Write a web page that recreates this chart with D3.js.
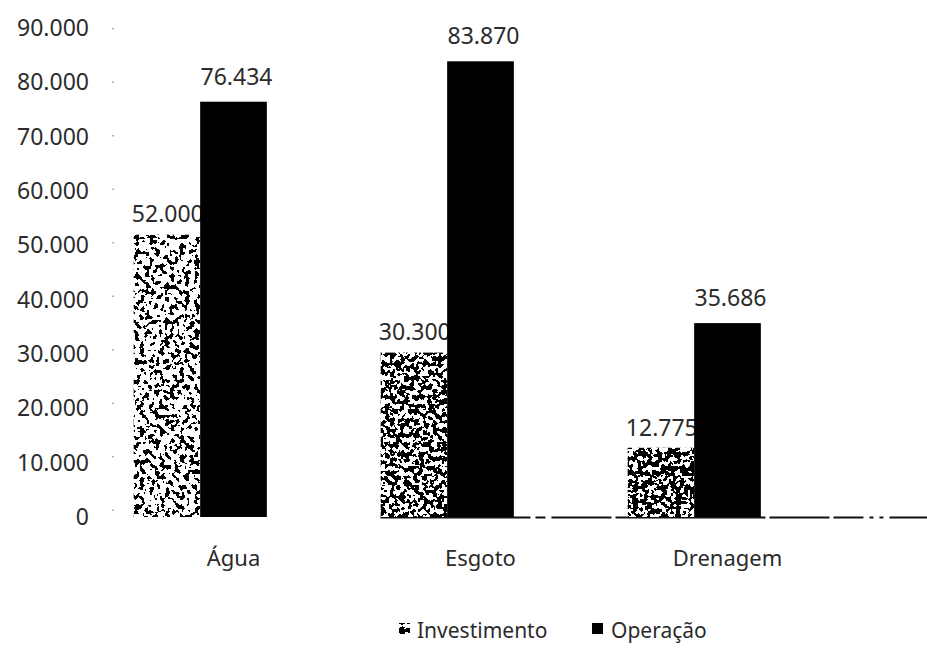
<!DOCTYPE html>
<html lang="pt-BR">
<head>
<meta charset="utf-8">
<script src="https://cdn.jsdelivr.net/npm/d3@7/dist/d3.min.js"></script>
<style>
  html, body { margin: 0; padding: 0; background: #fff; }
  svg { display: block; font-family: "Noto Sans", "Open Sans", sans-serif; }
</style>
</head>
<body>
<svg id="chart" width="927" height="661"></svg>
<script>
// Custos por componente do saneamento
const categories = ["Água", "Esgoto", "Drenagem"];
const investimento = [52000, 30300, 12775];
const operacao = [76434, 83870, 35686];
const seriesNames = ["Investimento", "Operação"];
const yTicks = [0, 10000, 20000, 30000, 40000, 50000, 60000, 70000, 80000, 90000];

const W = 927, H = 661;
const svg = d3.select("#chart");
const TEXT = "#2b2b2b";

const fmt = d3.formatLocale({ decimal: ",", thousands: ".", grouping: [3], currency: ["R$", ""] }).format(",.0f");

const x = d3.scaleBand().domain(categories).range([110, 851]).paddingInner(0.19).paddingOuter(0.095);
// three slots per group; the third stays empty
const xs = d3.scaleBand().domain([0, 1, 2]).range([0, x.bandwidth()]);
const y = d3.scaleLinear().domain([0, 90000]).range([517, 28]);

// speckled fill for the Investimento bars
const defs = svg.append("defs");
function speckle(id, density, freq, seed) {
  const f = defs.append("filter").attr("id", id)
    .attr("x", "0%").attr("y", "0%").attr("width", "100%").attr("height", "100%");
  f.append("feTurbulence").attr("type", "fractalNoise").attr("baseFrequency", freq)
    .attr("numOctaves", 2).attr("seed", seed).attr("result", "noise");
  f.append("feColorMatrix").attr("in", "noise").attr("type", "matrix")
    .attr("values", "0 0 0 0 0  0 0 0 0 0  0 0 0 0 0  4 0 0 0 -1.5").attr("result", "a");
  const steps = 20, ones = Math.round(density * steps);
  const table = d3.range(steps).map(i => (i >= steps - ones ? 1 : 0)).join(" ");
  f.append("feComponentTransfer").attr("in", "a").attr("result", "dots")
    .append("feFuncA").attr("type", "discrete").attr("tableValues", table);
  f.append("feComposite").attr("in", "dots").attr("in2", "SourceGraphic").attr("operator", "in").attr("result", "clipped");
  const m = f.append("feMerge");
  m.append("feMergeNode").attr("in", "SourceGraphic");
  m.append("feMergeNode").attr("in", "clipped");
}
speckle("speckleLight", 0.3, 0.2, 3);
speckle("speckleMid", 0.52, 0.21, 7);
speckle("speckleDense", 0.6, 0.21, 11);
const fillFilters = ["url(#speckleLight)", "url(#speckleMid)", "url(#speckleDense)"];

// faint dotted vertical axis
svg.append("line")
  .attr("x1", 113).attr("x2", 113).attr("y1", y(90000)).attr("y2", y(0))
  .attr("stroke", "#555").attr("stroke-width", 1.5).attr("stroke-dasharray", "1.5,52").attr("opacity", 0.6);

// y tick labels
svg.append("g").selectAll("text").data(yTicks).join("text")
  .attr("x", 89).attr("y", d => y(d) + 8)
  .attr("text-anchor", "end").attr("font-size", 23).attr("fill", TEXT)
  .text(d => fmt(d));

// baseline on the right side of the plot
svg.append("line")
  .attr("x1", x("Esgoto")).attr("x2", W)
  .attr("y1", y(0) + 0.5).attr("y2", y(0) + 0.5)
  .attr("stroke", "#111").attr("stroke-width", 1.8)
  .attr("stroke-dasharray", "150,5,10,6,60,4,150,4,60,4,30,6,4,6,4,6");

const groups = categories.map((c, i) => ({ c, i, inv: investimento[i], op: operacao[i] }));

// Investimento bars and labels (drawn first so the Operação bars overlap the labels)
svg.append("g").selectAll("rect").data(groups).join("rect")
  .attr("x", d => x(d.c) + xs(0)).attr("width", xs.bandwidth())
  .attr("y", d => y(d.inv)).attr("height", d => y(0) - y(d.inv))
  .attr("fill", "#fff").attr("filter", d => fillFilters[d.i]);

svg.append("g").selectAll("text").data(groups).join("text")
  .attr("x", d => x(d.c) + xs(0) + xs.bandwidth() / 2 + 1)
  .attr("y", d => y(d.inv) - 12)
  .attr("text-anchor", "middle").attr("font-size", 23).attr("fill", TEXT)
  .text(d => fmt(d.inv));

// Operação bars and labels
svg.append("g").selectAll("rect").data(groups).join("rect")
  .attr("x", d => x(d.c) + xs(1)).attr("width", xs.bandwidth())
  .attr("y", d => y(d.op)).attr("height", d => y(0) - y(d.op))
  .attr("fill", "#000");

svg.append("g").selectAll("text").data(groups).join("text")
  .attr("x", d => x(d.c) + xs(1) + xs.bandwidth() / 2 + 3)
  .attr("y", d => y(d.op) - 17)
  .attr("text-anchor", "middle").attr("font-size", 23).attr("fill", TEXT)
  .text(d => fmt(d.op));

// category labels
svg.append("g").selectAll("text").data(categories).join("text")
  .attr("x", d => x(d) + x.bandwidth() / 2)
  .attr("y", 566)
  .attr("text-anchor", "middle").attr("font-size", 22).attr("fill", TEXT)
  .text(d => d);

// legend
const legend = svg.append("g");
legend.append("rect").attr("x", 399).attr("y", 623).attr("width", 11).attr("height", 11)
  .attr("fill", "#fff").attr("filter", "url(#speckleDense)");
legend.append("text").attr("x", 417).attr("y", 638).attr("font-size", 21).attr("fill", TEXT).text(seriesNames[0]);
legend.append("rect").attr("x", 592).attr("y", 623).attr("width", 11).attr("height", 11).attr("fill", "#000");
legend.append("text").attr("x", 611).attr("y", 638).attr("font-size", 21).attr("fill", TEXT).text(seriesNames[1]);
</script>
</body>
</html>
